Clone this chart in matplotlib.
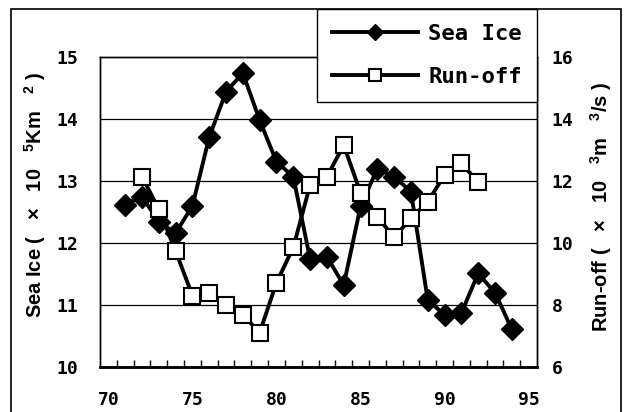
import matplotlib
matplotlib.use("Agg")
import matplotlib.pyplot as plt
from matplotlib.patches import Rectangle
from matplotlib.ticker import FixedLocator
from matplotlib.font_manager import FontProperties

plt.rcParams['mathtext.default'] = 'regular'

years_ice = list(range(71, 95))
sea_ice = [12.62, 12.75, 12.34, 12.16, 12.60, 13.71, 14.44, 14.74, 13.98, 13.31,
           13.07, 11.74, 11.78, 11.32, 12.59, 13.20, 13.07, 12.83, 11.08, 10.84,
           10.87, 11.51, 11.20, 10.61]
years_run = list(range(72, 93))
runoff = [12.14, 11.09, 9.74, 8.30, 8.39, 8.00, 7.68, 7.11, 8.72, 9.86,
          11.87, 12.14, 13.16, 11.62, 10.85, 10.18, 10.80, 11.33, 12.19, 12.57,
          11.96]
xticks = [70, 75, 80, 85, 90, 95]
left_ticks = [10, 11, 12, 13, 14, 15]
right_ticks = [6, 8, 10, 12, 14, 16]

W, H = 624, 412
fig = plt.figure(figsize=(W / 100, H / 100), dpi=100)
fig.patch.set_facecolor('white')

# outer chart border
fig.patches.append(Rectangle((11 / W, -0.01), (621 - 11) / W, (H - 9) / H + 0.01,
                             transform=fig.transFigure, fill=False,
                             edgecolor='black', linewidth=1.2, zorder=0))

ax = fig.add_axes([100 / W, (H - 367) / H, 437 / W, 310 / H])
ax2 = ax.twinx()

tickfont = dict(family='DejaVu Sans Mono', weight='bold', size=13)

ax.set_xlim(69.5, 95.5)
ax.set_ylim(10, 15)
ax2.set_ylim(6, 16)

for y in left_ticks[1:-1]:
    ax.axhline(y, color='black', linewidth=0.9, zorder=1)

l1, = ax.plot(years_ice, sea_ice, color='black', linewidth=2.8, marker='D',
              markersize=11, markerfacecolor='black', markeredgecolor='black',
              zorder=3, label='Sea Ice')
l2, = ax2.plot(years_run, runoff, color='black', linewidth=2.8, marker='s',
               markersize=11.5, markerfacecolor='white', markeredgecolor='black',
               markeredgewidth=1.5, zorder=3, label='Run-off')

ax.set_xticks(xticks)
ax.xaxis.set_minor_locator(FixedLocator([x + 0.5 for x in range(70, 95)]))
ax.tick_params(axis='x', which='major', length=0, pad=17)
ax.tick_params(axis='x', which='minor', direction='in', length=5, width=1)
ax.set_yticks(left_ticks)
ax.tick_params(axis='y', which='major', length=0, pad=16)
ax2.set_yticks(right_ticks)
ax2.tick_params(axis='y', which='major', length=0, pad=10.5)
for lab in ax.get_xticklabels() + ax.get_yticklabels() + ax2.get_yticklabels():
    lab.set_fontproperties(FontProperties(**tickfont))

for a in (ax, ax2):
    for s in a.spines.values():
        s.set_linewidth(1.0)
    a.spines['bottom'].set_linewidth(1.8)

labfont = dict(family='Liberation Sans', weight='bold', size=14.5)
fig.text(35 / W, (H - 195) / H, 'Sea Ice (   ×   10   $^{5}$Km   $^{2}$ )', rotation=90,
         ha='center', va='center', **labfont)
fig.text(601 / W, (H - 207) / H, 'Run-off (   ×   10   $^{3}$m   $^{3}$/s )', rotation=90,
         ha='center', va='center', **labfont)

leg = ax2.legend(handles=[l1, l2], loc='upper left',
                 bbox_to_anchor=(317 / W, (H - 9) / H), bbox_transform=fig.transFigure,
                 borderaxespad=0, frameon=True, fancybox=False, shadow=False,
                 prop=dict(family='DejaVu Sans Mono', weight='bold', size=16),
                 handlelength=3.9, handletextpad=0.45, borderpad=0.66,
                 labelspacing=1.05, markerscale=0.75)
leg.get_frame().set_edgecolor('black')
leg.get_frame().set_linewidth(1.0)
leg.get_frame().set_alpha(1)
leg.set_zorder(10)

fig.savefig('out.png', dpi=100, facecolor='white')
